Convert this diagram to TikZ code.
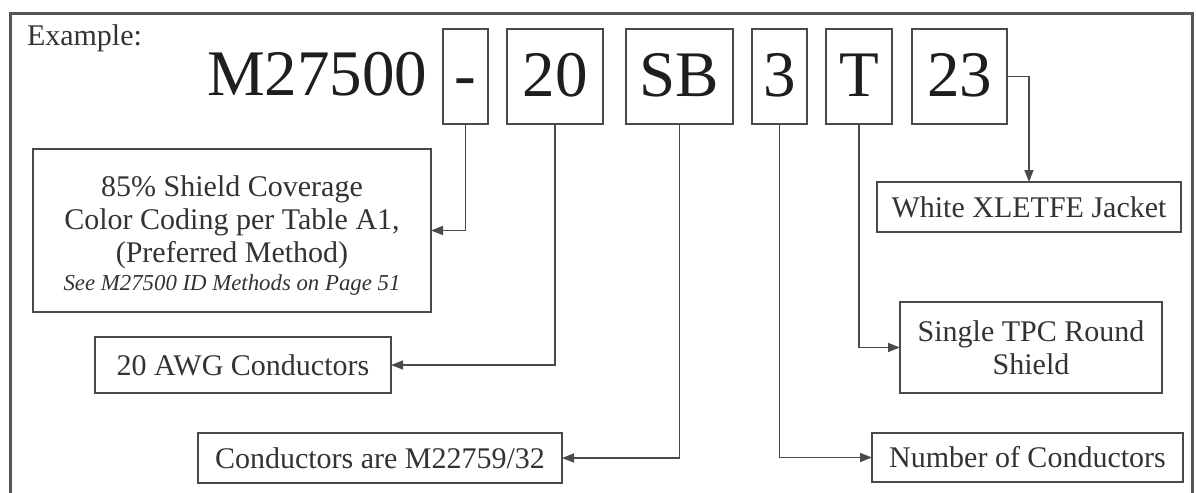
\documentclass[tikz,border=0pt]{standalone}
\usepackage{fontspec}
\setmainfont{Liberation Serif}
\usetikzlibrary{arrows.meta}
\definecolor{framec}{HTML}{555555}
\definecolor{boxc}{HTML}{4A4A4A}
\definecolor{txtc}{HTML}{333333}
\definecolor{codec}{HTML}{1E1E1E}
\begin{document}
\begin{tikzpicture}[x=0.5pt,y=-0.5pt,
  codebox/.style={draw=boxc, line width=0.8pt, inner sep=0pt, outer sep=0pt,
    minimum height=47.5pt, text=codec, font=\fontsize{32.5}{36}\selectfont,
    text height=20pt, text depth=0pt},
  codetext/.style={inner sep=0pt, outer sep=0pt, text=codec, font=\fontsize{32.5}{36}\selectfont},
  lbl/.style={draw=boxc, line width=0.8pt, inner sep=0pt, outer sep=0pt, text=txtc,
    font=\fontsize{15}{16.5}\selectfont, align=center},
  plain/.style={inner sep=0pt, outer sep=0pt, text=txtc, font=\fontsize{15}{16}\selectfont},
  conn/.style={draw=boxc, line width=0.75pt, -{Triangle[length=6pt,width=4.5pt]}},
]
\useasboundingbox (0,0) rectangle (1196,493);
\fill[white] (0,0) rectangle (1196,493);
\draw[framec, line width=1.5pt] (10.5,493) -- (10.5,13) -- (1192,13) -- (1192,493);

\node[plain, anchor=base west] (ex) at (27,45) {Example:};
\node[codetext, anchor=base west] (code) at (207,95) {M27500};
\node[codebox, minimum width=22.5pt] (dash) at (465.5,76.5) {-};
\node[codebox, minimum width=48pt] (twenty) at (555,76.5) {20};
\node[codebox, minimum width=53.5pt] (sb) at (679.5,76.5) {SB};
\node[codebox, minimum width=27.5pt] (three) at (779.5,76.5) {3};
\node[codebox, minimum width=33pt] (tee) at (859,76.5) {T};
\node[codebox, minimum width=47.5pt] (jk) at (959.5,76.5) {23};

\node[lbl, minimum width=199pt, minimum height=81.5pt] (shield) at (232,230.5)
  {\rule{0pt}{15.5pt}85\% Shield Coverage\\Color Coding per Table A1,\\(Preferred Method)\\[-2.5pt]{\fontsize{11.4}{13}\selectfont\itshape See M27500 ID Methods on Page 51}};
\node[lbl, minimum width=148pt, minimum height=28pt] (awg) at (243,365) {20 AWG Conductors};
\node[lbl, minimum width=182pt, minimum height=25pt] (mil) at (380,458) {Conductors are M22759/32};
\node[lbl, minimum width=152pt, minimum height=25pt] (jacket) at (1029,207) {White XLETFE Jacket};
\node[lbl, minimum width=131pt, minimum height=45.5pt] (tpc) at (1031,347.5) {Single TPC Round\\Shield};
\node[lbl, minimum width=155.5pt, minimum height=24.5pt] (num) at (1027.5,457.5) {Number of Conductors};

\draw[conn] (dash.south) |- (shield.east);
\draw[conn] (twenty.south) |- (awg.east);
\draw[conn] (sb.south) |- (mil.east);
\draw[conn] (three.south) |- (num.west);
\draw[conn] (tee.south) |- (tpc.west);
\draw[conn] (jk.east) -| (jacket.north);
\end{tikzpicture}
\end{document}
